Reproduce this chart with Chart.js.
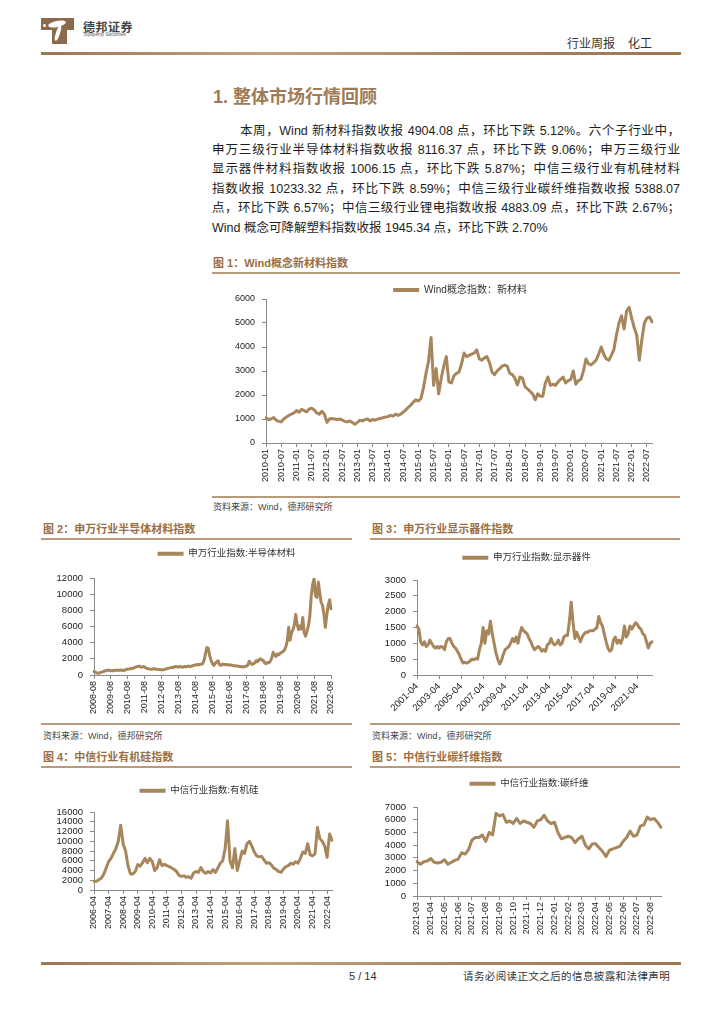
<!DOCTYPE html>
<html lang="zh-CN">
<head>
<meta charset="utf-8">
<title>行业周报 化工</title>
<script src="https://cdn.jsdelivr.net/npm/chart.js@4.4.1/dist/chart.umd.min.js"></script>
<style>
  html, body { margin: 0; padding: 0; background: #fff; }
  body {
    width: 724px; height: 1024px; position: relative; overflow: hidden;
    font-family: "Liberation Sans", "Noto Sans CJK SC", sans-serif; color: #222;
  }
  .abs { position: absolute; white-space: nowrap; }
  .rule { position: absolute; height: 2px; background: #b99b7c; }
  .bigrule { position: absolute; height: 3px; background: linear-gradient(to right, #9c7651, #c3a281 35%, #a98562 65%, #9c7651); }
  .fig-title { position: absolute; white-space: nowrap; font-size: 11px; line-height: 14px; font-weight: bold; color: #9b6e44; }
  .source { position: absolute; white-space: nowrap; font-size: 9px; line-height: 12px; color: #444; }
  .para {
    position: absolute; left: 212px; width: 468px; height: 19px;
    font-size: 12.5px; line-height: 19px; color: #1e1e1e;
    text-align: justify; text-align-last: justify;
  }
  canvas { position: absolute; }
</style>
</head>
<body>

<!-- header -->
<div class="abs" style="left:41px;top:18px;width:33px;height:12px;background:#8b6a4c;"></div>
<div class="abs" style="left:52px;top:29px;width:15px;height:15px;background:#8b6a4c;"></div>
<div class="abs" style="left:48px;top:21px;width:18px;height:6px;border-radius:50%;background:#fff;transform:rotate(-12deg);"></div>
<div class="abs" style="left:56px;top:25px;width:4px;height:16px;border-radius:40%;background:#fff;transform:rotate(18deg);"></div>
<div class="abs" style="left:43px;top:24px;width:3px;height:3px;border-radius:50%;background:#fff;"></div>
<div class="abs" style="left:83px;top:21px;font-size:12px;line-height:14px;font-weight:bold;color:#444;letter-spacing:0.5px;">德邦证券</div>
<div class="abs" style="left:83px;top:33px;font-size:8px;line-height:8px;color:#555;transform:scale(0.58);transform-origin:left top;">Topsperity Securities</div>
<div class="abs" style="left:567px;top:37px;font-size:12px;line-height:14px;color:#333;">行业周报</div>
<div class="abs" style="left:628px;top:37px;font-size:12px;line-height:14px;color:#333;">化工</div>
<div class="bigrule" style="left:41px;top:52px;width:640px;"></div>

<!-- section text -->
<div class="abs" style="left:213px;top:85px;font-size:18px;line-height:24px;font-weight:bold;color:#9e7b56;">1. 整体市场行情回顾</div>
<div class="para" style="top:122px;padding-left:28px;width:440px;">本周，Wind 新材料指数收报 4904.08 点，环比下跌 5.12%。六个子行业中，</div>
<div class="para" style="top:141px;">申万三级行业半导体材料指数收报 8116.37 点，环比下跌 9.06%；申万三级行业</div>
<div class="para" style="top:160px;">显示器件材料指数收报 1006.15 点，环比下跌 5.87%；中信三级行业有机硅材料</div>
<div class="para" style="top:180px;">指数收报 10233.32 点，环比下跌 8.59%；中信三级行业碳纤维指数收报 5388.07</div>
<div class="para" style="top:199px;">点，环比下跌 6.57%；中信三级行业锂电指数收报 4883.09 点，环比下跌 2.67%；</div>
<div class="para" style="top:219px;text-align:left;text-align-last:left;">Wind 概念可降解塑料指数收报 1945.34 点，环比下跌 2.70%</div>

<!-- figure 1 -->
<div class="fig-title" style="left:213px;top:256px;">图 1：Wind概念新材料指数</div>
<div class="rule" style="left:212px;top:272px;width:468px;"></div>
<canvas id="c1" width="468" height="215" style="left:212px;top:280px;"></canvas>
<div class="rule" style="left:212px;top:496px;width:468px;"></div>
<div class="source" style="left:213px;top:501px;">资料来源：Wind，德邦研究所</div>

<!-- figures 2 and 3 -->
<div class="fig-title" style="left:43px;top:522px;">图 2：申万行业半导体材料指数</div>
<div class="rule" style="left:41px;top:538px;width:311px;"></div>
<canvas id="c2" width="310" height="183" style="left:42px;top:540px;"></canvas>
<div class="rule" style="left:41px;top:723px;width:311px;"></div>
<div class="source" style="left:43px;top:730px;">资料来源：Wind，德邦研究所</div>

<div class="fig-title" style="left:372px;top:522px;">图 3：申万行业显示器件指数</div>
<div class="rule" style="left:370px;top:538px;width:310px;"></div>
<canvas id="c3" width="310" height="183" style="left:370px;top:540px;"></canvas>
<div class="rule" style="left:370px;top:723px;width:310px;"></div>
<div class="source" style="left:372px;top:730px;">资料来源：Wind，德邦研究所</div>

<!-- figures 4 and 5 -->
<div class="fig-title" style="left:43px;top:750px;">图 4：中信行业有机硅指数</div>
<div class="rule" style="left:41px;top:766px;width:311px;"></div>
<canvas id="c4" width="310" height="175" style="left:42px;top:770px;"></canvas>

<div class="fig-title" style="left:372px;top:750px;">图 5：中信行业碳纤维指数</div>
<div class="rule" style="left:370px;top:766px;width:310px;"></div>
<canvas id="c5" width="310" height="175" style="left:370px;top:770px;"></canvas>

<!-- footer -->
<div class="bigrule" style="left:41px;top:962px;width:640px;"></div>
<div class="abs" style="left:349px;top:969px;font-size:11px;line-height:14px;color:#333;">5 / 14</div>
<div class="abs" style="left:463px;top:969px;font-size:10.5px;line-height:14px;color:#333;letter-spacing:0.4px;">请务必阅读正文之后的信息披露和法律声明</div>

<script>
// ============================== DATA ==============================

// 图1：Wind概念指数：新材料，月度 2010-01 ~ 2022-09
const windTicks = ['2010-01', '2010-07', '2011-01', '2011-07', '2012-01', '2012-07', '2013-01', '2013-07',
  '2014-01', '2014-07', '2015-01', '2015-07', '2016-01', '2016-07', '2017-01', '2017-07', '2018-01',
  '2018-07', '2019-01', '2019-07', '2020-01', '2020-07', '2021-01', '2021-07', '2022-01', '2022-07'];
const windValues = [
  1050, 980, 1000, 1060, 950, 900, 880, 1000, 1080, 1150, 1200, 1250,
  1350, 1280, 1400, 1350, 1300, 1420, 1450, 1380, 1250, 1200, 1320, 1200,
  860, 1000, 1020, 1000, 980, 1000, 960, 900, 880, 920, 850, 780,
  860, 950, 920, 980, 1000, 920, 980, 950, 1000, 1020, 1050, 1080,
  1100, 1150, 1120, 1200, 1150, 1200, 1280, 1380, 1480, 1580, 1700, 1800,
  1750, 1850, 2300, 2900, 3400, 4400, 2400, 3100, 2050, 2700, 3200, 3600,
  2550, 2500, 2800, 2900, 2950, 3300, 3750, 3600, 3650, 3700, 3750, 3880,
  3500, 3450, 3550, 3600, 3350, 2950, 2850, 3000, 3100, 3200, 3250, 3200,
  2900, 2850, 2700, 2420, 2750, 2700, 2350, 2250, 2150, 2050, 1800, 2050,
  1950, 1950, 2500, 2750, 2400, 2450, 2400, 2550, 2650, 2750, 2500, 2600,
  2650, 3000, 2450, 2600, 2650, 3000, 3500, 3300, 3250, 3350, 3450, 3700,
  4000, 3700, 3500, 3450, 3650, 3900, 4500, 5000, 5300, 4750, 5500, 5650,
  5200, 4800, 4500, 3450, 4300, 5000, 5200, 5250, 5050
];

// 图2：申万行业指数:半导体材料，月度 2008-08 ~ 2022-08
const semiTicks = ['2008-08', '2009-08', '2010-08', '2011-08', '2012-08', '2013-08', '2014-08', '2015-08',
  '2016-08', '2017-08', '2018-08', '2019-08', '2020-08', '2021-08', '2022-08'];
const semiValues = [
  420, 350, 250, 220, 280,
  320, 380, 450, 520, 560, 600, 580, 520, 560, 540, 580, 600,
  560, 600, 620, 580, 550, 620, 700, 720, 760, 820, 780, 850,
  950, 1000, 1050, 1100, 1000, 960, 1050, 980, 850, 800, 760, 720,
  700, 760, 780, 720, 700, 680, 640, 660, 650, 700, 720, 780,
  850, 880, 950, 900, 1000, 1050, 1000, 980, 1050, 1000, 950, 1050,
  1000, 1050, 1100, 1050, 1080, 1150, 1200, 1250, 1300, 1250, 1300, 1350,
  1400, 1800, 2600, 3400, 3300, 2400, 1800, 1400, 1200, 1450, 1650, 1750,
  1250, 1200, 1350, 1300, 1300, 1250, 1300, 1200, 1250, 1200, 1150, 1150,
  1100, 1100, 1050, 1050, 1000, 1000, 1050, 1100, 1200, 1700, 1500, 1300,
  1400, 1500, 1800, 1650, 1900, 2000, 1850, 1800, 1500, 1400, 1550, 1500,
  1700, 2100, 2800, 2500, 2300, 2600, 2500, 2700, 2800, 2900, 3100, 3500,
  4200, 5900, 4300, 5200, 5600, 6200, 7500, 6300, 5600, 6100, 5700, 7100,
  5200, 4800, 5400, 6100, 7300, 9800, 11200, 11900, 9800, 9600, 11500, 10200,
  9000, 8600, 7500, 5900, 7400, 8600, 9300, 8200
];

// 图3：申万行业指数:显示器件，双月 2001-04 ~ 2022-08
const dispTicks = ['2001-04', '2003-04', '2005-04', '2007-04', '2009-04', '2011-04', '2013-04',
  '2015-04', '2017-04', '2019-04', '2021-04'];
const dispValues = [
  1550, 1450, 1050, 950, 1050,
  900, 950, 1100, 1000, 900, 850,
  900, 850, 900, 880, 800, 1050,
  1150, 1150, 1000, 900, 850, 750,
  650, 500, 380, 400, 380, 400,
  450, 500, 480, 520, 500, 800,
  1000, 1500, 1000, 1400, 1300, 1700,
  1300, 1000, 700, 500, 350, 450,
  650, 800, 850, 900, 1000, 1150,
  1050, 1200, 1000, 1300, 1500, 1400,
  1350, 1300, 1150, 1050, 900, 800,
  850, 900, 850, 750, 800, 750,
  950, 1000, 1150, 1000, 950, 1000,
  1100, 950, 1000, 1200, 1250, 1250,
  1700, 2300, 1650, 1150, 1350, 1200,
  1050, 1200, 1300, 1350, 1350, 1400,
  1400, 1400, 1450, 1500, 1850, 1650,
  1550, 1300, 1050, 850, 750, 800,
  1100, 1200, 1000, 1100, 1000, 1150,
  1550, 1200, 1300, 1550, 1450, 1550,
  1650, 1600, 1500, 1450, 1300, 1250,
  1050, 850, 1000, 1050
];

// 图4：中信行业指数:有机硅，双月 2006-04 ~ 2022-08
const siliTicks = ['2006-04', '2007-04', '2008-04', '2009-04', '2010-04', '2011-04', '2012-04', '2013-04',
  '2014-04', '2015-04', '2016-04', '2017-04', '2018-04', '2019-04', '2020-04', '2021-04', '2022-04'];
const siliValues = [
  1800, 1800, 2100, 2400, 3200,
  4500, 5800, 6500, 7500, 8500, 10000,
  13300, 9500, 8000, 5000, 3300, 3300,
  3800, 5200, 4900, 5600, 6500, 5600,
  6500, 5800, 4000, 4600, 6200, 5000,
  5300, 5000, 4800, 4500, 4200, 3800,
  3000, 2800, 2900, 2600, 2700, 2400,
  3500, 3800, 3600, 4600, 3800, 3400,
  3800, 3500, 4200, 3600, 4500, 5500,
  6000, 8500, 14200, 6000, 4500, 8500,
  4000, 6000, 8000, 7500, 9500, 10000,
  9000, 7800, 7000, 6800, 6900, 6200,
  5500, 5600, 5200, 4500, 4200, 3800,
  3600, 4300, 4800, 5000, 5500, 5300,
  5800, 5500, 6500, 7800, 7500, 9500,
  7200, 7000, 7400, 12800, 10500, 10000,
  9000, 6700, 11500, 10200
];

// 图5：中信行业指数:碳纤维，每月四个观测点 2021-03 ~ 2022-08
const cfTicks = ['2021-03', '2021-04', '2021-05', '2021-06', '2021-07', '2021-08', '2021-09', '2021-10',
  '2021-11', '2021-12', '2022-01', '2022-02', '2022-03', '2022-04', '2022-05', '2022-06', '2022-07', '2022-08'];
const cfDays = ['01', '08', '15', '22'];
const cfValues = [
  2700, 2500, 2700, 2750,
  2950, 2650, 2600, 2650,
  2850, 2500, 2650, 2800,
  2900, 3400, 3300, 3650,
  4400, 4600, 4600, 4800,
  4300, 5000, 4800, 6500,
  6300, 6400, 5800, 5900,
  5700, 6100, 5700, 5900,
  5800, 5700, 5400, 5900,
  6000, 6350, 5900, 5700,
  5800, 5000, 4500, 4600,
  4700, 4600, 4200, 4500,
  4700, 4000, 3700, 4100,
  4100, 3800, 3500, 3100,
  3600, 3700, 3800, 3900,
  4300, 4600, 5100, 4700,
  4800, 5500, 5600, 6200,
  6000, 6100, 5800, 5400
];

// ============================== CHARTS ==============================

const LINE = '#a8865b';
const AXIS = '#8a8a8a';
Chart.defaults.font.family = '"Liberation Sans", "Noto Sans CJK SC", sans-serif';
Chart.defaults.color = '#222';

// 'YYYY-MM' labels, one every `step` months
function monthLabels(start, count, step) {
  let [y, m] = start.split('-').map(Number);
  const out = [];
  for (let i = 0; i < count; i++) {
    out.push(y + '-' + String(m).padStart(2, '0'));
    m += step;
    while (m > 12) { m -= 12; y += 1; }
  }
  return out;
}

// fixes the legend height and nudges it sideways so the plot sits where the original does
const legendBox = {
  id: 'legendBox',
  beforeInit(chart) {
    const legend = chart.legend;
    const fit = legend.fit;
    legend.fit = function () {
      fit.call(this);
      this.height = chart.options.plugins.legendBox.height;
    };
  },
  afterLayout(chart) {
    const dx = chart.options.plugins.legendBox.dx;
    chart.legend.left += dx;
    chart.legend.right += dx;
  }
};

function makeChart(id, cfg) {
  const tickMark = ctx => (ctx.tick && ctx.tick.label ? AXIS : 'rgba(0,0,0,0)');
  new Chart(document.getElementById(id), {
    type: 'line',
    data: {
      labels: cfg.labels,
      datasets: [{
        label: cfg.name,
        data: cfg.values,
        borderColor: LINE,
        backgroundColor: LINE,
        borderWidth: 3,
        pointRadius: 0,
        tension: 0,
        borderJoinStyle: 'round',
        borderCapStyle: 'round'
      }]
    },
    options: {
      responsive: false,
      animation: false,
      devicePixelRatio: 1,
      events: [],
      layout: { padding: { left: 0, top: 0, bottom: 0, right: cfg.padRight } },
      plugins: {
        legend: {
          position: 'top',
          fullSize: false,
          labels: {
            boxWidth: 26,
            boxHeight: 4,
            padding: cfg.legendPad,
            color: '#333',
            font: { size: cfg.legendSize },
            generateLabels(chart) {
              return Chart.defaults.plugins.legend.labels.generateLabels(chart)
                .map(item => Object.assign(item, { lineWidth: 0 }));
            }
          }
        },
        tooltip: { enabled: false },
        legendBox: { height: cfg.legendHeight, dx: cfg.legendDx }
      },
      scales: {
        x: {
          grid: { drawOnChartArea: false, tickLength: 4, color: AXIS, tickColor: tickMark },
          border: { color: AXIS },
          ticks: {
            autoSkip: false,
            minRotation: cfg.rotation,
            maxRotation: cfg.rotation,
            padding: 2,
            color: '#222',
            font: { size: cfg.xFont },
            callback(value) { return cfg.tickLabel(this.getLabelForValue(value)); }
          },
          afterFit(scale) { scale.height = cfg.xHeight; }
        },
        y: {
          min: 0,
          max: cfg.max,
          grid: { drawOnChartArea: false, tickLength: 4, color: AXIS },
          border: { color: AXIS },
          ticks: {
            stepSize: cfg.step,
            autoSkip: false,
            padding: 7,
            color: '#222',
            font: { size: cfg.yFont },
            callback: value => String(value)   // no thousands separator, as in the original
          },
          afterFit(scale) { scale.width = cfg.yWidth; }
        }
      }
    },
    plugins: [legendBox]
  });
}

makeChart('c1', {
  labels: monthLabels('2010-01', windValues.length, 1),
  values: windValues,
  name: 'Wind概念指数：新材料',
  tickLabel: lab => (windTicks.includes(lab) ? lab : ''),
  max: 6000, step: 1000, rotation: 90,
  yWidth: 54, xHeight: 52, padRight: 28,
  legendHeight: 19, legendPad: 5, legendDx: 1, legendSize: 10,
  xFont: 9, yFont: 9
});

makeChart('c2', {
  labels: monthLabels('2008-08', semiValues.length, 1),
  values: semiValues,
  name: '申万行业指数:半导体材料',
  tickLabel: lab => (semiTicks.includes(lab) ? lab : ''),
  max: 12000, step: 2000, rotation: 90,
  yWidth: 52, xHeight: 48, padRight: 21,
  legendHeight: 38, legendPad: 9, legendDx: 14, legendSize: 9.5,
  xFont: 9, yFont: 9.5
});

makeChart('c3', {
  labels: monthLabels('2001-04', dispValues.length, 2),
  values: dispValues,
  name: '申万行业指数:显示器件',
  tickLabel: lab => (dispTicks.includes(lab) ? lab : ''),
  max: 3000, step: 500, rotation: 45,
  yWidth: 47, xHeight: 48, padRight: 28,
  legendHeight: 40, legendPad: 13, legendDx: -8, legendSize: 9.5,
  xFont: 9.5, yFont: 9.5
});

makeChart('c4', {
  labels: monthLabels('2006-04', siliValues.length, 2),
  values: siliValues,
  name: '中信行业指数:有机硅',
  tickLabel: lab => (siliTicks.includes(lab) ? lab : ''),
  max: 16000, step: 2000, rotation: 90,
  yWidth: 52, xHeight: 55, padRight: 20,
  legendHeight: 42, legendPad: 16, legendDx: -14, legendSize: 9.5,
  xFont: 9, yFont: 9.5
});

makeChart('c5', {
  labels: cfTicks.flatMap(m => cfDays.map(d => m + '-' + d)),
  values: cfValues,
  name: '中信行业指数:碳纤维',
  tickLabel: lab => (lab.endsWith('-01') && cfTicks.includes(lab.slice(0, 7)) ? lab.slice(0, 7) : ''),
  max: 7000, step: 1000, rotation: 90,
  yWidth: 47, xHeight: 49, padRight: 19,
  legendHeight: 37, legendPad: 9, legendDx: -10, legendSize: 9.5,
  xFont: 9, yFont: 9.5
});
</script>
</body>
</html>
